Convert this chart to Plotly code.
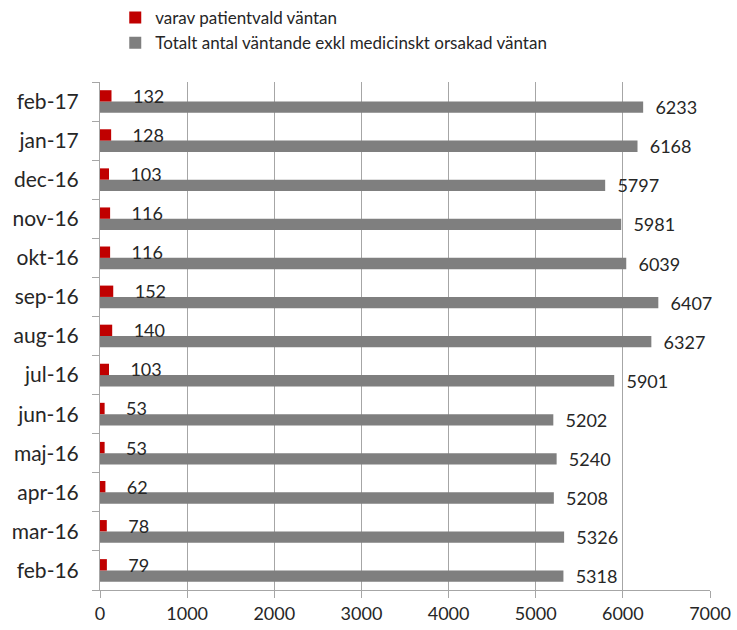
import plotly.graph_objects as go

months = ["feb-16", "mar-16", "apr-16", "maj-16", "jun-16", "jul-16", "aug-16",
          "sep-16", "okt-16", "nov-16", "dec-16", "jan-17", "feb-17"]
patientvald = [79, 78, 62, 53, 53, 103, 140, 152, 116, 116, 103, 128, 132]
totalt = [5318, 5326, 5208, 5240, 5202, 5901, 6327, 6407, 6039, 5981, 5797, 6168, 6233]

FONT = "Lato"
TXT = "#262626"

fig = go.Figure()
fig.add_trace(go.Bar(
    y=months, x=totalt, orientation="h",
    name="Totalt antal väntande exkl medicinskt orsakad väntan",
    marker=dict(color="#7F7F7F", line=dict(width=0)),
    text=totalt, texttemplate="  %{x}", textposition="outside",
    textfont=dict(family=FONT, size=18, color=TXT),
    constraintext="none", cliponaxis=False,
))
fig.add_trace(go.Bar(
    y=months, x=patientvald, orientation="h",
    name="varav patientvald väntan",
    marker=dict(color="#C00000", line=dict(width=0)),
    text=patientvald, texttemplate="    %{x}", textposition="outside",
    textfont=dict(family=FONT, size=18, color=TXT),
    constraintext="none", cliponaxis=False,
))

fig.update_layout(
    width=737, height=630,
    margin=dict(l=100, r=27, t=82, b=40, autoexpand=False),
    paper_bgcolor="white", plot_bgcolor="white",
    barmode="group", bargap=0.42, bargroupgap=0,
    font=dict(family=FONT, size=17, color=TXT),
    showlegend=True,
    legend=dict(
        traceorder="reversed", orientation="v",
        x=0.025, xanchor="left", yref="container", y=1.0, yanchor="top",
        font=dict(family=FONT, size=17, color=TXT),
        itemwidth=30, tracegroupgap=0, bgcolor="rgba(0,0,0,0)",
    ),
)

fig.update_xaxes(
    range=[0, 7000], dtick=1000, tick0=0,
    showgrid=True, gridcolor="#A6A6A6", gridwidth=1,
    showline=True, linecolor="#A6A6A6", linewidth=1,
    ticks="outside", ticklen=7, tickcolor="#A6A6A6",
    tickfont=dict(family=FONT, size=18, color=TXT),
    zeroline=False, fixedrange=True,
)
fig.update_yaxes(
    categoryorder="array", categoryarray=months,
    showline=True, linecolor="#A6A6A6", linewidth=1,
    ticks="outside", ticklen=7, tickcolor="#A6A6A6",
    tickson="boundaries", ticklabelstandoff=16,
    tickfont=dict(family=FONT, size=21, color=TXT),
    showgrid=False, fixedrange=True,
)

fig.write_html("out.html")
